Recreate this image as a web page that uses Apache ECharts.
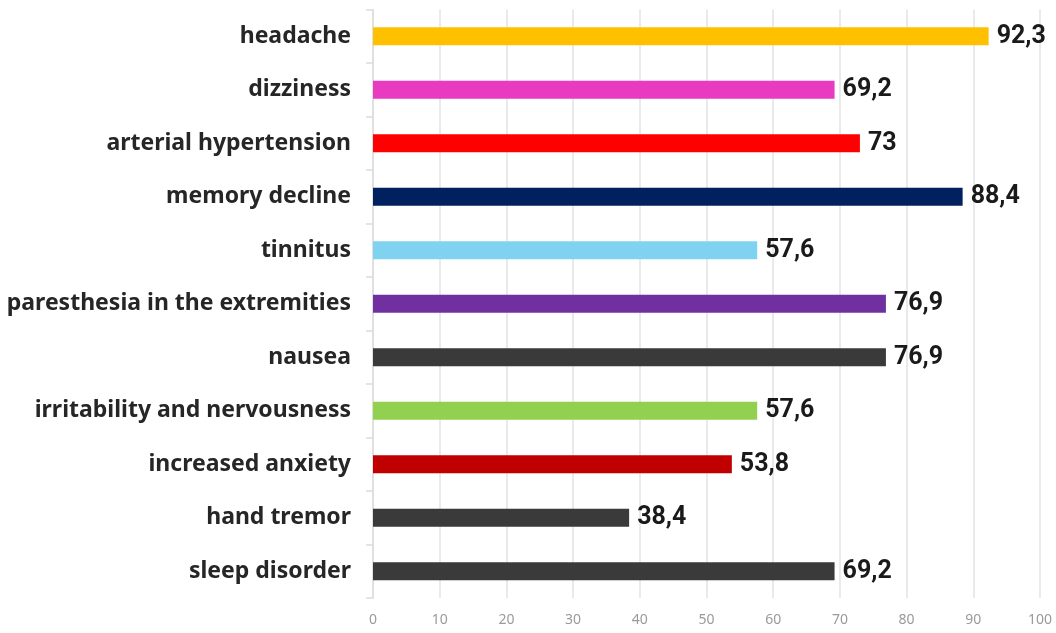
<!DOCTYPE html>
<html>
<head>
<meta charset="utf-8">
<script src="https://cdn.jsdelivr.net/npm/echarts@6/dist/echarts.min.js"></script>
<style>
  html, body { margin: 0; padding: 0; background: #ffffff; }
  #chart { width: 1056px; height: 633px; }
</style>
</head>
<body>
<div id="chart"></div>
<script>
// Symptoms, listed top to bottom
const categories = [
  'headache',
  'dizziness',
  'arterial hypertension',
  'memory decline',
  'tinnitus',
  'paresthesia in the extremities',
  'nausea',
  'irritability and nervousness',
  'increased anxiety',
  'hand tremor',
  'sleep disorder'
];

// Share of patients, %
const values = [92.3, 69.2, 73, 88.4, 57.6, 76.9, 76.9, 57.6, 53.8, 38.4, 69.2];

// Bar colours, one per symptom
const barColors = [
  '#FFC000', '#E83BBF', '#FF0000', '#002060', '#7FD3F0', '#7030A0',
  '#3A3A3A', '#92D050', '#C00000', '#3A3A3A', '#3A3A3A'
];

const chart = echarts.init(document.getElementById('chart'), null, { renderer: 'canvas' });

chart.setOption({
  animation: false,
  backgroundColor: '#ffffff',
  grid: { left: 373, right: 16, top: 9.5, bottom: 35, containLabel: false },
  xAxis: {
    type: 'value',
    min: 0,
    max: 100,
    interval: 10,
    axisLine: { show: false },
    axisTick: { show: false },
    splitLine: { show: true, lineStyle: { color: '#e3e3e3', width: 1.5 } },
    axisLabel: {
      color: '#9a9a9a',
      fontSize: 14,
      fontFamily: 'Noto Sans',
      margin: 15
    }
  },
  yAxis: {
    type: 'category',
    inverse: true,
    data: categories,
    axisLine: { show: true, lineStyle: { color: '#dcdcdc', width: 1.5 } },
    axisTick: { show: true, length: 7, lineStyle: { color: '#dcdcdc', width: 1.5 } },
    axisLabel: {
      color: '#262626',
      fontSize: 23,
      fontWeight: 'bold',
      fontFamily: '"Noto Sans", sans-serif',
      margin: 22
    }
  },
  series: [{
    type: 'bar',
    data: values.map((v, i) => ({ value: v, itemStyle: { color: barColors[i] } })),
    barWidth: 18,
    label: {
      show: true,
      position: 'right',
      distance: 8,
      color: '#1a1a1a',
      fontSize: 25,
      fontWeight: 'bold',
      fontFamily: '"Roboto", sans-serif',
      formatter: p => String(p.value).replace('.', ',')
    }
  }]
});
</script>
</body>
</html>
